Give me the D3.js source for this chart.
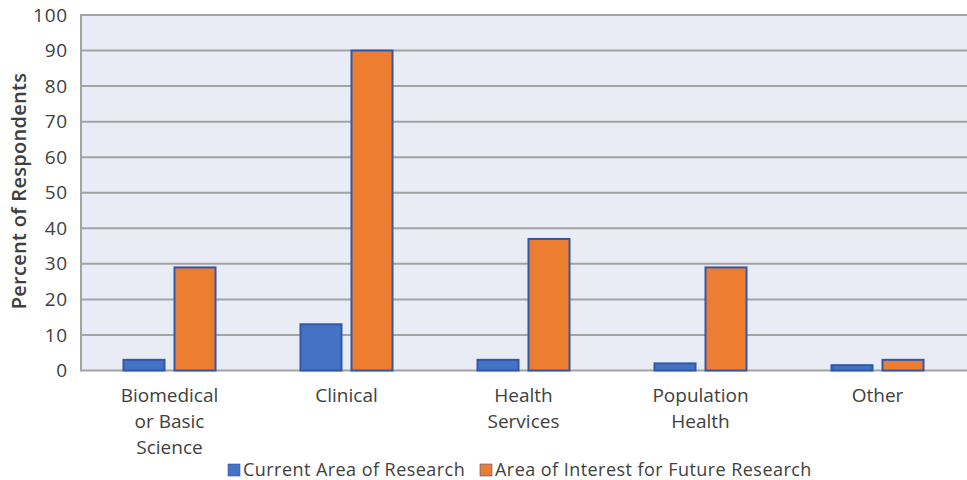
<!DOCTYPE html>
<html>
<head>
<meta charset="utf-8">
<script src="https://cdn.jsdelivr.net/npm/d3@7"></script>
<style>
  html, body { margin: 0; padding: 0; background: #ffffff; }
  svg { display: block; }
  text { font-family: "Open Sans", "Lato", sans-serif; fill: #404040; }
</style>
</head>
<body>
<svg id="chart" width="967" height="480"></svg>
<script>
// Research areas of respondents: current vs. future interest (percent)
const categories = [
  ["Biomedical", "or Basic", "Science"],
  ["Clinical"],
  ["Health", "Services"],
  ["Population", "Health"],
  ["Other"]
];
const seriesNames = ["Current Area of Research", "Area of Interest for Future Research"];
const currentArea = [3, 13, 3, 2, 1.5];
const futureInterest = [29, 90, 37, 29, 3];
const yTicks = [0, 10, 20, 30, 40, 50, 60, 70, 80, 90, 100];
const yTitle = "Percent of Respondents";

const colors = ["#4472c4", "#ed7d31"];
const barStroke = "#3358a8";

const svg = d3.select("#chart");
const plot = { left: 81, right: 967, top: 15, bottom: 370.5 };

const catKeys = categories.map(c => c.join(" "));
const x = d3.scaleBand().domain(catKeys).range([plot.left, plot.left + 885]);
const xInner = d3.scaleBand().domain(seriesNames)
  .range([0, x.bandwidth()]).paddingInner(0.196).paddingOuter(0.833);
const y = d3.scaleLinear().domain([0, 100]).range([plot.bottom, plot.top]);

// plot background
svg.append("rect")
  .attr("x", plot.left).attr("y", plot.top)
  .attr("width", plot.right - plot.left).attr("height", plot.bottom - plot.top)
  .attr("fill", "#e9ebf5");

// horizontal gridlines
svg.append("g").selectAll("line").data(yTicks).join("line")
  .attr("x1", plot.left).attr("x2", plot.right)
  .attr("y1", d => y(d)).attr("y2", d => y(d))
  .attr("stroke", "#a3a3a3").attr("stroke-width", 2);

// left axis line
svg.append("line")
  .attr("x1", plot.left).attr("x2", plot.left)
  .attr("y1", plot.top - 1).attr("y2", plot.bottom + 1)
  .attr("stroke", "#a3a3a3").attr("stroke-width", 2);

// y axis labels
const yAxis = d3.axisLeft(y).tickValues(yTicks).tickSize(0).tickPadding(13);
const gy = svg.append("g").attr("transform", `translate(${plot.left},0)`).call(yAxis);
gy.select(".domain").remove();
gy.selectAll("text")
  .style("font-family", '"Open Sans", sans-serif')
  .attr("font-size", 19).attr("letter-spacing", 0.8).attr("fill", "#404040");

// y axis title
svg.append("text")
  .attr("transform", `translate(26,${191}) rotate(-90)`)
  .attr("text-anchor", "middle")
  .attr("font-size", 20).attr("font-weight", 600)
  .attr("letter-spacing", 0.3)
  .text(yTitle);

// bars
const seriesData = [currentArea, futureInterest];
seriesData.forEach((vals, si) => {
  svg.append("g").selectAll("rect").data(vals).join("rect")
    .attr("x", (d, i) => x(catKeys[i]) + xInner(seriesNames[si]))
    .attr("width", xInner.bandwidth())
    .attr("y", d => y(d))
    .attr("height", d => y(0) - y(d))
    .attr("fill", colors[si])
    .attr("stroke", barStroke).attr("stroke-width", 2);
});

// category labels
const catG = svg.append("g");
categories.forEach((lines, i) => {
  const cx = x(catKeys[i]) + x.bandwidth() / 2;
  const t = catG.append("text")
    .attr("x", cx)
    .attr("y", 402)
    .attr("text-anchor", "middle")
    .attr("font-size", 19);
  lines.forEach((ln, j) => {
    t.append("tspan")
      .attr("x", cx)
      .attr("dy", j === 0 ? 0 : 26)
      .text(ln);
  });
});

// legend
const legend = svg.append("g");
const legendItems = [
  { name: seriesNames[0], color: colors[0], x: 228 },
  { name: seriesNames[1], color: colors[1], x: 480 }
];
legendItems.forEach(it => {
  legend.append("rect")
    .attr("x", it.x).attr("y", 464).attr("width", 12).attr("height", 12)
    .attr("fill", it.color)
    .attr("stroke", barStroke).attr("stroke-width", 0.6);
  legend.append("text")
    .attr("x", it.x + 15).attr("y", 476)
    .attr("font-size", 18).attr("letter-spacing", 0.45)
    .text(it.name);
});
</script>
</body>
</html>
